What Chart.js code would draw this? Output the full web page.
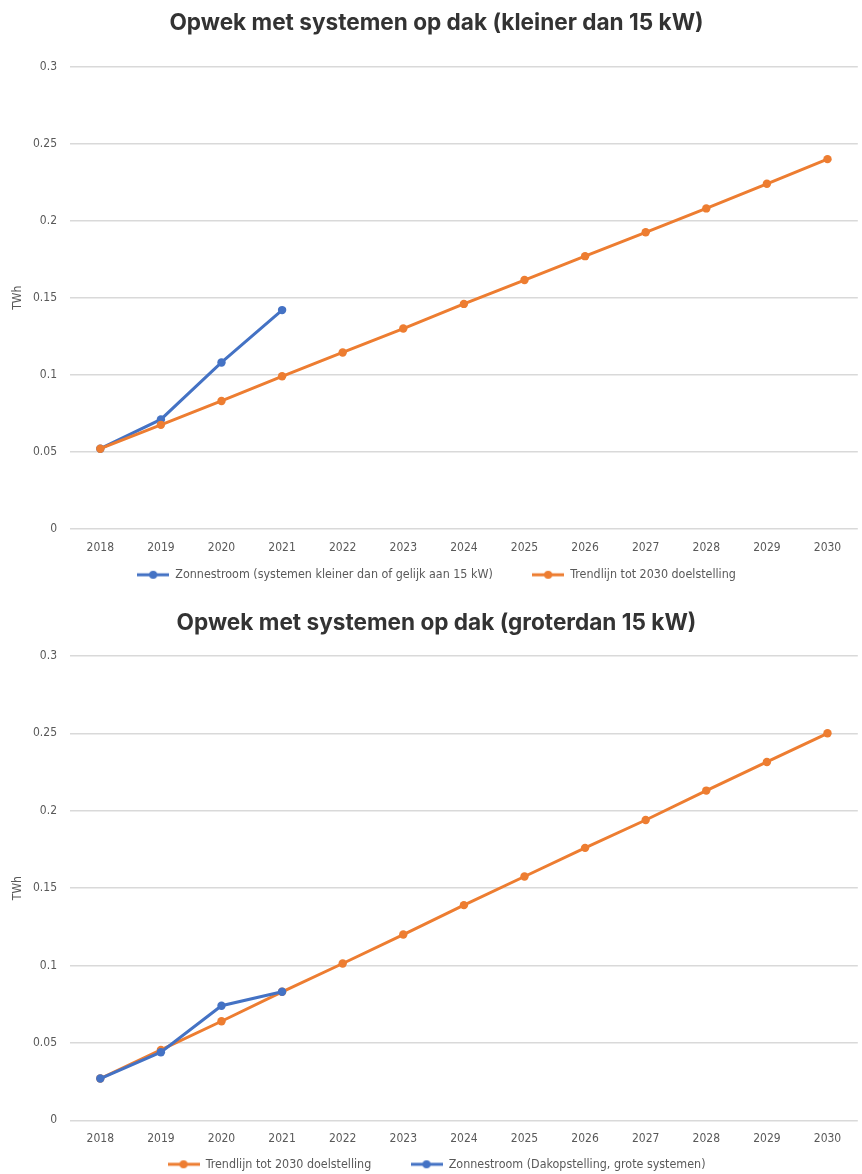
<!DOCTYPE html>
<html><head><meta charset="utf-8">
<script src="https://cdn.jsdelivr.net/npm/chart.js@4"></script>
<style>
html,body{margin:0;background:#fff;overflow:hidden;width:862px;height:1174px;}
.box{position:absolute;left:0;width:862px;}
#b1{top:0;height:600px}
#b2{top:598px;height:588px}
</style>
</head><body>
<div class="box" id="b1"><canvas id="c1"></canvas></div>
<div class="box" id="b2"><canvas id="c2"></canvas></div>
<script>
// ---- data ----
const years = ['2018','2019','2020','2021','2022','2023','2024','2025','2026','2027','2028','2029','2030'];
const smallActual = [0.052, 0.071, 0.108, 0.142];
const smallTrend  = [0.052, 0.0675, 0.083, 0.099, 0.1145, 0.130, 0.146, 0.1615, 0.177, 0.1925, 0.208, 0.224, 0.240];
const largeTrend  = [0.027, 0.0455, 0.064, 0.083, 0.1013, 0.120, 0.139, 0.1575, 0.176, 0.194, 0.213, 0.2315, 0.250];
const largeActual = [0.027, 0.044, 0.074, 0.083];
const yTickLabels = ['0','0.05','0.1','0.15','0.2','0.25','0.3'];
const titleSmall = 'Opwek met systemen op dak (kleiner dan 15 kW)';
const titleLarge = 'Opwek met systemen op dak (groterdan 15 kW)';
const labelSmallActual = 'Zonnestroom (systemen kleiner dan of gelijk aan 15 kW)';
const labelTrend = 'Trendlijn tot 2030 doelstelling';
const labelLargeActual = 'Zonnestroom (Dakopstelling, grote systemen)';

const BLUE = '#4472C4';
const ORANGE = '#ED7D31';
const TICKFONT = "'DejaVu Sans Condensed', 'DejaVu Sans', sans-serif";

function legendImg(color){
  const c = document.createElement('canvas');
  c.width = 32; c.height = 10;
  const g = c.getContext('2d');
  g.strokeStyle = color; g.lineWidth = 3;
  g.beginPath(); g.moveTo(0, 5); g.lineTo(32, 5); g.stroke();
  g.fillStyle = color; g.beginPath(); g.arc(16, 5, 4, 0, Math.PI*2); g.fill();
  return c;
}

function makeChart(id, title, datasets, p){
  return new Chart(document.getElementById(id), {
    type: 'line',
    data: { labels: years, datasets: datasets },
    options: {
      responsive: true, maintainAspectRatio: false, animation: false,
      layout: { padding: { left: 11, right: 0, top: 0, bottom: p.bottom } },
      plugins: {
        title: { display: true, text: title, color: '#333333',
          font: { family: 'Inter', weight: 'bold', size: 22.6 },
          padding: { top: p.titleTop, bottom: p.titleBottom } },
        legend: { position: 'bottom',
          labels: { usePointStyle: true, pointStyleWidth: 32, boxHeight: 12,
            color: '#595959', font: { family: TICKFONT, size: 12.4 }, padding: p.legPad,
            sort: (a,b) => a.datasetIndex - b.datasetIndex,
            generateLabels: (chart) => {
              const items = Chart.defaults.plugins.legend.labels.generateLabels(chart);
              items.sort((a,b) => a.datasetIndex - b.datasetIndex);
              items.forEach((it, i) => {
                const d = chart.data.datasets[it.datasetIndex];
                it.pointStyle = legendImg(d.borderColor);
                if (i < items.length - 1) it.text = it.text + p.gap;
              });
              return items;
            } } },
        tooltip: { enabled: false }
      },
      scales: {
        x: { offset: true,
          grid: { display: false, drawTicks: false },
          border: { display: false },
          ticks: { color: '#595959', font: { family: TICKFONT, size: 12 }, padding: p.xPad, maxRotation: 0 } },
        y: { min: 0, max: 0.3,
          afterFit: (s) => { s.width = 59; },
          grid: { color: '#d9d9d9', lineWidth: 1.5, drawTicks: false },
          border: { display: false },
          title: { display: true, text: 'TWh', color: '#595959', font: { family: TICKFONT, size: 12 }, padding: { top: 0, bottom: 8 } },
          ticks: { stepSize: 0.05, color: '#595959', font: { family: TICKFONT, size: 12 }, padding: 13,
            callback: (v, i) => yTickLabels[i] } }
      }
    }
  });
}

function ds(label, data, color, order){
  return { label: label, data: data, borderColor: color, backgroundColor: color,
    borderWidth: 3, pointRadius: 4.2, pointBorderWidth: 0, pointBackgroundColor: color,
    tension: 0, order: order };
}

makeChart('c1', titleSmall, [
  ds(labelSmallActual, smallActual, BLUE, 1),
  ds(labelTrend, smallTrend, ORANGE, 0)
], { titleTop: 10, titleBottom: 29.6, xPad: 12, legPad: 1.4, bottom: 9, gap: '\u2003\u2003\u2003\u2009\u2009' });

makeChart('c2', titleLarge, [
  ds(labelTrend, largeTrend, ORANGE, 1),
  ds(labelLargeActual, largeActual, BLUE, 0)
], { titleTop: 12, titleBottom: 18.8, xPad: 11, legPad: 1.4, bottom: 5.5, gap: '\u2003\u2003\u2003\u2009\u2009' });
</script>
</body></html>
